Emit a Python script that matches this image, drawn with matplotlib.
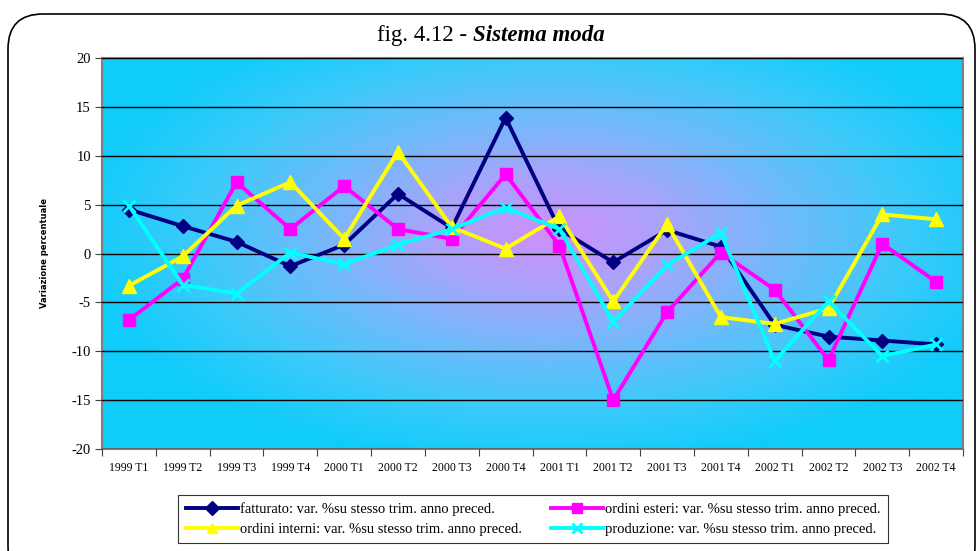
import numpy as np
import matplotlib.pyplot as plt
from matplotlib.patches import FancyBboxPatch
from matplotlib.colors import LinearSegmentedColormap

plt.rcParams['axes.unicode_minus'] = False

periodi = ['1999 T1', '1999 T2', '1999 T3', '1999 T4',
           '2000 T1', '2000 T2', '2000 T3', '2000 T4',
           '2001 T1', '2001 T2', '2001 T3', '2001 T4',
           '2002 T1', '2002 T2', '2002 T3', '2002 T4']

fatturato = [4.5, 2.8, 1.2, -1.3, 0.9, 6.1, 2.6, 13.9,
             2.5, -0.9, 2.4, 0.7, -7.3, -8.5, -8.9, -9.3]
ordini_esteri = [-6.8, -2.6, 7.3, 2.5, 6.9, 2.5, 1.5, 8.1,
                 0.8, -15.0, -6.0, 0.1, -3.7, -10.9, 1.0, -2.9]
ordini_interni = [-3.3, -0.3, 4.9, 7.3, 1.5, 10.4, 2.7, 0.5,
                  3.8, -4.9, 3.0, -6.5, -7.2, -5.6, 4.0, 3.5]
produzione = [4.9, -3.2, -4.1, 0.1, -1.1, 0.9, 2.5, 4.7,
              2.5, -7.0, -1.2, 2.1, -11.0, -4.9, -10.5, -9.3]

suffix = ': var. %su stesso trim. anno preced.'
series = [
    ('fatturato', fatturato, '#000080', 'D', 7),
    ('ordini esteri', ordini_esteri, '#FF00FF', 's', 9),
    ('ordini interni', ordini_interni, '#FFFF00', '^', 10),
    ('produzione', produzione, '#00FFFF', 'x', 9),
]

fig = plt.figure(figsize=(9.78, 5.51), dpi=100)
fig.patch.set_facecolor('white')

# rounded outer frame
frame = FancyBboxPatch((0.08, -0.3), 9.67, 5.67,
                       boxstyle='round,pad=0,rounding_size=0.35',
                       transform=fig.dpi_scale_trans, fill=False,
                       edgecolor='black', linewidth=1.2)
fig.patches.append(frame)

ax = fig.add_axes([0.1043, 0.1851, 0.8804, 0.7096])

# radial gradient background (purple centre, cyan edges)
nx, ny = 400, 200
gx, gy = np.meshgrid(np.linspace(0, 1, nx), np.linspace(0, 1, ny))
r = np.sqrt(((gx - 0.52) / 0.55) ** 2 + ((gy - 0.55) / 0.6) ** 2)
r = np.clip(r, 0, 1)
cmap = LinearSegmentedColormap.from_list(
    'bg', ['#CC90FA', '#A8A4FA', '#70BAFA', '#3CCAFA', '#10CCFA'])
ax.imshow(r, cmap=cmap, extent=[0, 1, 0, 1], transform=ax.transAxes,
          aspect='auto', origin='lower', zorder=0, interpolation='bilinear')

x = np.arange(len(periodi))
handles = []
for name, vals, col, mk, ms in series:
    h, = ax.plot(x, vals, color=col, marker=mk, markersize=ms, linewidth=2.8,
                 markeredgewidth=2 if mk == 'x' else 1, markeredgecolor=col,
                 label=name + suffix, zorder=3)
    handles.append(h)

ax.set_xlim(-0.5, len(periodi) - 0.5)
ax.set_ylim(-20, 20)
ax.set_yticks(np.arange(-20, 21, 5))
ax.yaxis.grid(True, color='black', linewidth=1.0, zorder=1)
ax.set_axisbelow(False)
for gl in ax.get_ygridlines():
    gl.set_zorder(1)

ax.set_xticks(np.arange(-0.5, len(periodi), 1.0))
ax.set_xticklabels([])
ax.set_xticks(x, minor=True)
ax.set_xticklabels(periodi, minor=True, fontsize=8.5, family='Liberation Serif')
ax.tick_params(axis='x', which='minor', length=0, pad=9)
ax.tick_params(axis='x', which='major', length=5, color='#404040')
ax.tick_params(axis='y', length=5, color='#404040', labelsize=10.5, pad=3)
for lbl in ax.get_yticklabels():
    lbl.set_family('Liberation Serif')

for side in ['left', 'bottom', 'top', 'right']:
    ax.spines[side].set_color('#808080')
    ax.spines[side].set_linewidth(1.5)

fig.text(0.046, 0.54, 'Variazione percentuale', rotation=90, fontsize=6,
         fontweight='bold', ha='center', va='center', family='DejaVu Sans')

fig.text(0.4836, 0.935, 'fig. 4.12 - ', fontsize=16.5, family='Liberation Serif',
         ha='right', va='center')
fig.text(0.4836, 0.935, 'Sistema moda', fontsize=16.5, family='Liberation Serif',
         fontweight='bold', fontstyle='italic', ha='left', va='center')

# legend row order: fatturato, ordini esteri / ordini interni, produzione
order = [0, 2, 1, 3]
leg = fig.legend([handles[i] for i in order],
                 [handles[i].get_label() for i in order],
                 loc='center', bbox_to_anchor=(0.545, 0.058), ncol=2,
                 frameon=True, fancybox=False, edgecolor='black',
                 prop={'family': 'Liberation Serif', 'size': 10.5},
                 handlelength=3.6, columnspacing=2.0, borderpad=0.5,
                 labelspacing=0.45, handletextpad=0.1)
leg.get_frame().set_linewidth(0.8)
for h in leg.legend_handles:
    h.set_markersize(7)

fig.savefig('out.png', dpi=100)
